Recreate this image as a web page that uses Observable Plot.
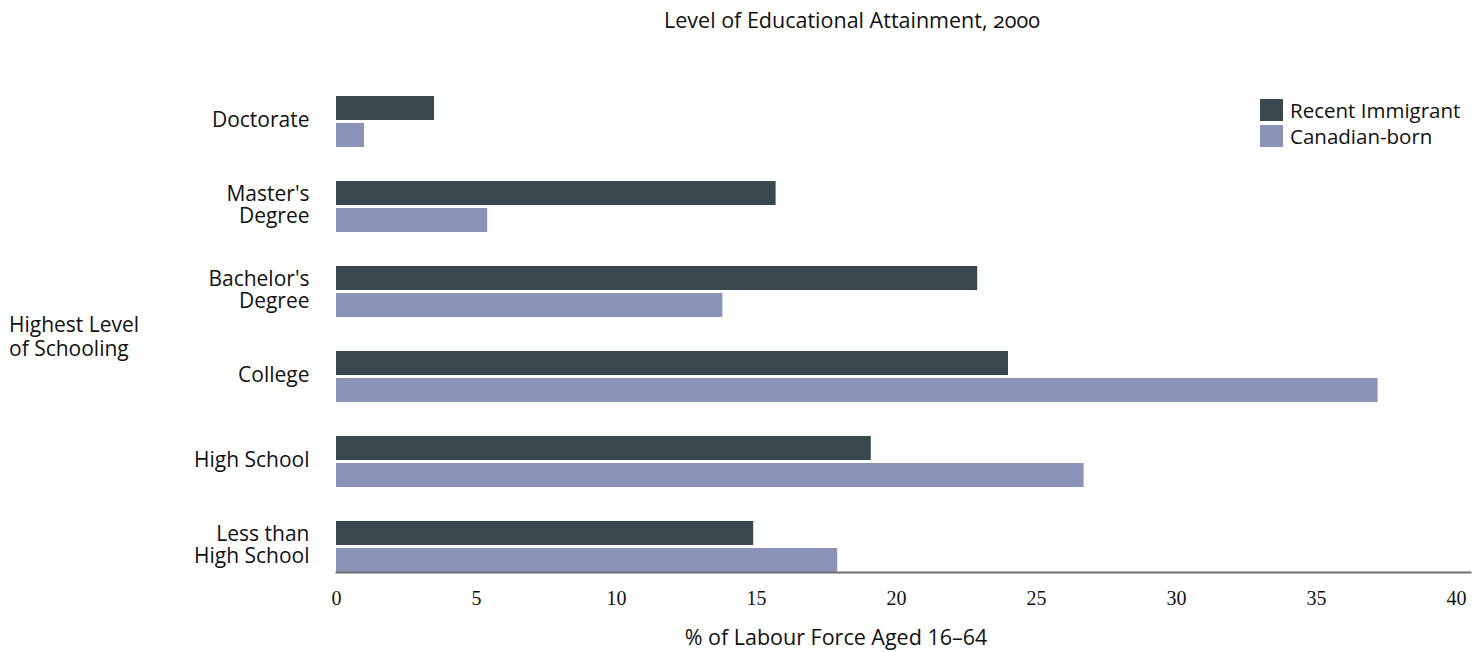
<!DOCTYPE html>
<html>
<head>
<meta charset="utf-8">
<script src="https://cdn.jsdelivr.net/npm/d3@7"></script>
<script src="https://cdn.jsdelivr.net/npm/@observablehq/plot@0.6"></script>
<style>
  html, body { margin: 0; padding: 0; background: #fff; }
  #wrap { position: relative; width: 1481px; height: 652px; font-family: "Open Sans", sans-serif; color: #111; }
  #wrap svg { position: absolute; left: 0; top: 0; }
  .lbl { position: absolute; white-space: nowrap; font-size: 21px; line-height: 24px; }
  #title { left: 852px; top: 8px; transform: translateX(-50%); font-size: 21.5px; font-variant-numeric: oldstyle-nums; }
  #xlabel { left: 836px; top: 625px; transform: translateX(-50%); font-size: 21.5px; }
  #ylabel { left: 9px; top: 312px; }
  #legend { left: 1260px; top: 97px; font-size: 20.5px; }
  .item { display: flex; align-items: center; height: 26px; }
  .sw { width: 23px; height: 22px; margin-right: 7px; }
</style>
</head>
<body>
<div id="wrap">
  <div class="lbl" id="title">Level of Educational Attainment, 2000</div>
  <div class="lbl" id="ylabel">Highest Level<br>of Schooling</div>
  <div class="lbl" id="xlabel">% of Labour Force Aged 16–64</div>
  <div class="lbl" id="legend"></div>
</div>
<script>
// Education levels, top to bottom
const categories = ["Doctorate", "Master's Degree", "Bachelor's Degree", "College", "High School", "Less than High School"];
const categoryLabels = ["Doctorate", "Master's\nDegree", "Bachelor's\nDegree", "College", "High School", "Less than\nHigh School"];

// Series (share of labour force aged 16–64, %)
const seriesNames = ["Recent Immigrant", "Canadian-born"];
const recentImmigrant = [3.5, 15.7, 22.9, 24.0, 19.1, 14.9];
const canadianBorn = [1.0, 5.4, 13.8, 37.2, 26.7, 17.9];
const seriesColors = ["#39474f", "#8b93b9"];

const xTicks = [0, 5, 10, 15, 20, 25, 30, 35, 40];

// Long table for the bar mark
const rows = categories.flatMap((level, i) => [
  {level, series: seriesNames[0], value: recentImmigrant[i]},
  {level, series: seriesNames[1], value: canadianBorn[i]}
]);

const chart = Plot.plot({
  width: 1481,
  height: 652,
  marginTop: 96,
  marginBottom: 80,
  marginLeft: 336,
  marginRight: 11,
  style: {fontFamily: "'Open Sans', sans-serif", color: "#111", background: "transparent"},
  x: {domain: [0, 40.5]},
  fy: {domain: categories, paddingInner: 0.4, paddingOuter: 0, axis: null},
  y: {domain: seriesNames, paddingInner: 3 / 27, paddingOuter: 0, axis: null},
  color: {domain: seriesNames, range: seriesColors},
  marks: [
    Plot.barX(rows, {fy: "level", y: "series", x: "value", fill: "series"}),
    Plot.text(categories, {
      fy: (d) => d,
      text: (d, i) => categoryLabels[i],
      frameAnchor: "left",
      dx: -27,
      dy: -2,
      textAnchor: "end",
      fontSize: 21,
      lineHeight: 1.06,
      fill: "#111"
    }),
    Plot.frame({anchor: "bottom", facetAnchor: "bottom", stroke: "#6f6f6f", strokeWidth: 2}),
    Plot.axisX({
      ticks: xTicks,
      tickSize: 0,
      tickPadding: 18,
      facetAnchor: "bottom",
      fontFamily: "'Liberation Serif', serif",
      fontSize: 20,
      fill: "#111",
      label: null
    })
  ]
});

document.getElementById("wrap").prepend(chart);

// Legend: one swatch per series
const legend = d3.select("#legend");
seriesNames.forEach((name, i) => {
  const item = legend.append("div").attr("class", "item");
  item.append("div").attr("class", "sw").style("background", seriesColors[i]);
  item.append("span").text(name);
});
</script>
</body>
</html>
